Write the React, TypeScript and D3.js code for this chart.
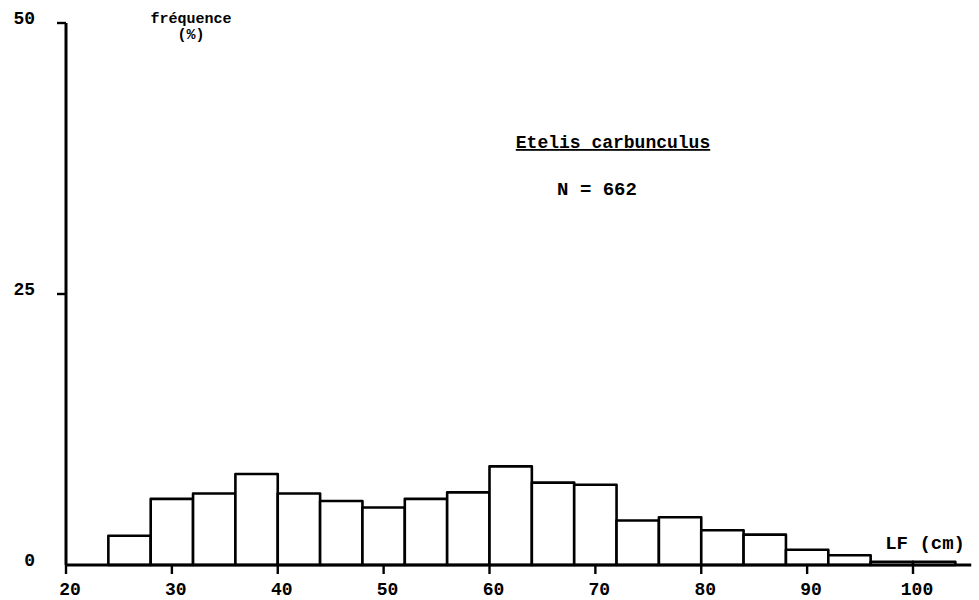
import React, { useEffect, useRef } from 'react';
import * as d3 from 'd3';

// length classes (cm), lower bound of each 4 cm class
const classStarts = [24, 28, 32, 36, 40, 44, 48, 52, 56, 60, 64, 68, 72, 76, 80, 84, 88, 92, 96, 100];
const classWidth = 4;
// frequency (%) per class
const frequencies = [2.7, 6.1, 6.6, 8.4, 6.6, 5.9, 5.3, 6.1, 6.7, 9.1, 7.6, 7.4, 4.1, 4.4, 3.2, 2.8, 1.4, 0.9, 0.3, 0.3];

const xTicks = [20, 30, 40, 50, 60, 70, 80, 90, 100];
const yTicks = [0, 25, 50];

const speciesName = 'Etelis carbunculus';
const sampleSize = 'N = 662';

export default function App() {
  const ref = useRef<SVGSVGElement>(null);

  useEffect(() => {
    const width = 979;
    const height = 600;
    const font = "'Liberation Mono', 'DejaVu Sans Mono', monospace";

    const svg = d3.select(ref.current).attr('width', width).attr('height', height);
    svg.selectAll('*').remove();

    const xScale = d3.scaleLinear().domain([20, 100]).range([66, 913]);
    const yScale = d3.scaleLinear().domain([0, 50]).range([565, 23]);

    const data = classStarts.map((s, i) => ({ start: s, f: frequencies[i] }));

    // bars
    svg.append('g').selectAll('rect').data(data)
      .join('rect')
      .attr('x', d => xScale(d.start))
      .attr('y', d => yScale(d.f))
      .attr('width', d => xScale(d.start + classWidth) - xScale(d.start))
      .attr('height', d => yScale(0) - yScale(d.f))
      .attr('fill', '#fff')
      .attr('stroke', '#000')
      .attr('stroke-width', 2.6)
      .attr('stroke-linejoin', 'round');

    // x axis
    const xAxis = svg.append('g');
    xAxis.append('line')
      .attr('x1', xScale(20)).attr('x2', xScale(105.5))
      .attr('y1', yScale(0)).attr('y2', yScale(0))
      .attr('stroke', '#000').attr('stroke-width', 3.2);
    xAxis.selectAll('.xtick').data(xTicks)
      .join('line').attr('class', 'xtick')
      .attr('x1', d => xScale(d)).attr('x2', d => xScale(d))
      .attr('y1', yScale(0)).attr('y2', yScale(0) + 9)
      .attr('stroke', '#000').attr('stroke-width', 2.4);
    xAxis.selectAll('.xlab').data(xTicks)
      .join('text').attr('class', 'xlab')
      .attr('x', d => xScale(d) + 4)
      .attr('y', yScale(0) + 30)
      .attr('text-anchor', 'middle')
      .style('font-family', font).style('font-weight', 'bold').style('font-size', '18px')
      .text(d => d);

    // y axis
    const yAxis = svg.append('g');
    yAxis.append('line')
      .attr('x1', xScale(20)).attr('x2', xScale(20))
      .attr('y1', yScale(50)).attr('y2', yScale(0))
      .attr('stroke', '#000').attr('stroke-width', 3);
    yAxis.selectAll('.ytick').data(yTicks.filter(d => d > 0))
      .join('line').attr('class', 'ytick')
      .attr('x1', xScale(20) - 9).attr('x2', xScale(20))
      .attr('y1', d => yScale(d)).attr('y2', d => yScale(d))
      .attr('stroke', '#000').attr('stroke-width', 2.4);
    yAxis.selectAll('.ylab').data(yTicks)
      .join('text').attr('class', 'ylab')
      .attr('x', 35)
      .attr('y', d => yScale(d) + 1)
      .attr('text-anchor', 'end')
      .style('font-family', font).style('font-weight', 'bold').style('font-size', '18px')
      .text(d => d);

    // axis titles
    svg.append('text')
      .attr('x', 191).attr('y', 23)
      .attr('text-anchor', 'middle')
      .style('font-family', font).style('font-weight', 'bold').style('font-size', '15px')
      .text('fréquence');
    svg.append('text')
      .attr('x', 191).attr('y', 39)
      .attr('text-anchor', 'middle')
      .style('font-family', font).style('font-weight', 'bold').style('font-size', '15px')
      .text('(%)');
    svg.append('text')
      .attr('x', 965).attr('y', 549)
      .attr('text-anchor', 'end')
      .style('font-family', font).style('font-weight', 'bold').style('font-size', '19px')
      .text('LF (cm)');

    // species label
    svg.append('text')
      .attr('x', 613).attr('y', 148)
      .attr('text-anchor', 'middle')
      .attr('text-decoration', 'underline')
      .style('font-family', font).style('font-weight', 'bold').style('font-size', '18px')
      .text(speciesName);
    svg.append('text')
      .attr('x', 597).attr('y', 195)
      .attr('text-anchor', 'middle')
      .style('font-family', font).style('font-weight', 'bold').style('font-size', '19px')
      .text(sampleSize);
  }, []);

  return (
    <svg ref={ref} style={{ position: 'absolute', left: 0, top: 0, background: '#fff' }} />
  );
}
